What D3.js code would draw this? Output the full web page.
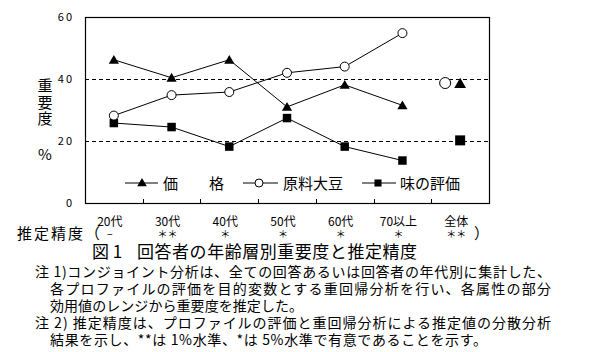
<!DOCTYPE html>
<html>
<head>
<meta charset="utf-8">
<script src="https://cdn.jsdelivr.net/npm/d3@7"></script>
<style>
  body { margin: 0; background: #fff; }
  text { font-family: "Noto Sans CJK JP", sans-serif; fill: #000; }
</style>
</head>
<body>
<script>
// categories (age groups)
var ages = ["20代", "30代", "40代", "50代", "60代", "70以上", "全体"];
var sig = ["−", "＊＊", "＊", "＊", "＊", "＊", "＊＊"];
var yTicks = [0, 20, 40, 60];

// importance (%) by age group, last value = 全体
var price = [46.2, 40.4, 46.2, 31.0, 38.1, 31.5, 38.5];
var soy = [28.2, 34.8, 35.8, 42.0, 44.0, 54.8, 38.7];
var taste = [25.8, 24.5, 18.2, 27.4, 18.2, 13.7, 20.2];

var notes = [
  "注 1)コンジョイント分析は、全ての回答あるいは回答者の年代別に集計した、",
  "各プロファイルの評価を目的変数とする重回帰分析を行い、各属性の部分",
  "効用値のレンジから重要度を推定した。",
  "注 2) 推定精度は、プロファイルの評価と重回帰分析による推定値の分散分析",
  "結果を示し、**は 1%水準、*は 5%水準で有意であることを示す。"
];

var W = 589, H = 352;
var pL = 85, pR = 489, pT = 17, pB = 203;

var svg = d3.select("body").append("svg")
  .attr("width", W).attr("height", H);

var x = d3.scaleBand().domain(ages).range([pL, pR]);
var y = d3.scaleLinear().domain([0, 60]).range([pB, pT]);

// dashed grid lines
svg.selectAll(".grid")
  .data([20, 40])
  .enter().append("line")
  .attr("x1", pL).attr("x2", pR)
  .attr("y1", function (d) { return Math.round(y(d)) + 0.5; })
  .attr("y2", function (d) { return Math.round(y(d)) + 0.5; })
  .attr("stroke", "#000").attr("stroke-width", 1)
  .attr("stroke-dasharray", "4,3");

// frame
svg.append("rect")
  .attr("x", pL + 0.5).attr("y", pT + 0.5)
  .attr("width", pR - pL).attr("height", pB - pT)
  .attr("fill", "none").attr("stroke", "#000").attr("stroke-width", 1.2);

// x ticks (inside, at band boundaries)
svg.selectAll(".xt")
  .data(ages.slice(1))
  .enter().append("line")
  .attr("x1", function (d) { return Math.round(x(d)) + 0.5; })
  .attr("x2", function (d) { return Math.round(x(d)) + 0.5; })
  .attr("y1", pB).attr("y2", pB - 4)
  .attr("stroke", "#000");

// y tick labels
svg.selectAll(".yl")
  .data(yTicks)
  .enter().append("text")
  .attr("x", 74).attr("y", function (d) { return y(d) + 4; })
  .attr("text-anchor", "end")
  .style("font-size", "11px")
  .style("letter-spacing", "2px")
  .text(function (d) { return d; });

// y axis title
["重", "要", "度"].forEach(function (c, i) {
  svg.append("text")
    .attr("x", 45).attr("y", 91 + i * 16.5)
    .attr("text-anchor", "middle")
    .style("font-size", "15px")
    .text(c);
});
svg.append("text")
  .attr("x", 45).attr("y", 160)
  .attr("text-anchor", "middle")
  .style("font-size", "15px")
  .text("%");

var cx = function (i) { return x(ages[i]) + x.bandwidth() / 2; };
var idx = d3.range(6);

var line = function (vals) {
  return d3.line()
    .x(function (i) { return cx(i); })
    .y(function (i) { return y(vals[i]); })(idx);
};

[price, soy, taste].forEach(function (vals) {
  svg.append("path")
    .attr("d", line(vals))
    .attr("fill", "none").attr("stroke", "#000").attr("stroke-width", 1);
});

var tri = d3.symbol().type(d3.symbolTriangle);
var sq = d3.symbol().type(d3.symbolSquare);

// markers for age groups
svg.selectAll(".pt")
  .data(idx).enter().append("path")
  .attr("transform", function (i) { return "translate(" + cx(i) + "," + (y(price[i]) + 1) + ")"; })
  .attr("d", tri.size(45)());
svg.selectAll(".ps")
  .data(idx).enter().append("path")
  .attr("transform", function (i) { return "translate(" + cx(i) + "," + y(taste[i]) + ")"; })
  .attr("d", sq.size(72)());
svg.selectAll(".pc")
  .data(idx).enter().append("circle")
  .attr("cx", function (i) { return cx(i); })
  .attr("cy", function (i) { return y(soy[i]); })
  .attr("r", 4.5)
  .attr("fill", "#fff").attr("stroke", "#000");

// 全体 markers
svg.append("path")
  .attr("transform", "translate(" + cx(6) + "," + (y(price[6]) + 1) + ")")
  .attr("d", tri.size(60)());
svg.append("path")
  .attr("transform", "translate(" + cx(6) + "," + y(taste[6]) + ")")
  .attr("d", sq.size(100)());
svg.append("circle")
  .attr("cx", cx(6) - 15).attr("cy", y(soy[6])).attr("r", 5.5)
  .attr("fill", "#fff").attr("stroke", "#000");

// legend
var ly = 183;
svg.append("line").attr("x1", 125).attr("x2", 158).attr("y1", ly).attr("y2", ly).attr("stroke", "#000");
svg.append("path").attr("transform", "translate(142," + (ly + 0.5) + ")").attr("d", tri.size(40)());
svg.append("text").attr("x", 163).attr("y", ly + 6).style("font-size", "15px").text("価");
svg.append("text").attr("x", 209).attr("y", ly + 6).style("font-size", "15px").text("格");
svg.append("line").attr("x1", 243).attr("x2", 278).attr("y1", ly).attr("y2", ly).attr("stroke", "#000");
svg.append("circle").attr("cx", 259).attr("cy", ly).attr("r", 4)
  .attr("fill", "#fff").attr("stroke", "#000");
svg.append("text").attr("x", 283).attr("y", ly + 6).style("font-size", "15px").text("原料大豆");
svg.append("line").attr("x1", 362).attr("x2", 396).attr("y1", ly).attr("y2", ly).attr("stroke", "#000");
svg.append("path").attr("transform", "translate(378," + ly + ")").attr("d", sq.size(50)());
svg.append("text").attr("x", 400).attr("y", ly + 6).style("font-size", "15px").text("味の評価");

// estimation precision row
var xl = d3.scaleBand().domain(ages).range([pL - 4, pR - 4]);
svg.append("text").attr("x", 17).attr("y", 239)
  .style("font-size", "15px").style("letter-spacing", "2px").text("推定精度（");
svg.selectAll(".age")
  .data(ages).enter().append("text")
  .attr("x", function (d) { return xl(d) + xl.bandwidth() / 2; })
  .attr("y", 226)
  .attr("text-anchor", "middle")
  .style("font-size", "12px")
  .text(function (d) { return d; });
svg.selectAll(".sig")
  .data(ages).enter().append("text")
  .attr("x", function (d) { return xl(d) + xl.bandwidth() / 2; })
  .attr("y", 238)
  .attr("text-anchor", "middle")
  .style("font-size", "10px")
  .text(function (d, i) { return sig[i]; });
svg.append("text").attr("x", 474).attr("y", 239)
  .style("font-size", "15px").text("）");

// figure title
svg.append("text").attr("x", 92).attr("y", 258)
  .style("font-size", "17px").text("図 1");
svg.append("text").attr("x", 137).attr("y", 258)
  .attr("textLength", 280).attr("lengthAdjust", "spacing")
  .style("font-size", "17px").text("回答者の年齢層別重要度と推定精度");

// notes
var nx = [35, 50, 50, 35, 50];
var nw = [516, 501, 253, 516, 437];
svg.selectAll(".note")
  .data(notes).enter().append("text")
  .attr("x", function (d, i) { return nx[i]; })
  .attr("y", function (d, i) { return 277 + i * 17; })
  .attr("textLength", function (d, i) { return nw[i]; })
  .attr("lengthAdjust", "spacing")
  .style("font-size", "14px")
  .text(function (d) { return d; });
</script>
</body>
</html>
